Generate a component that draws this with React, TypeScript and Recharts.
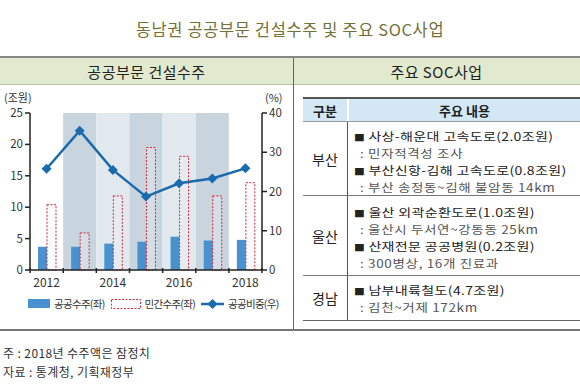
import {
  ComposedChart,
  Bar,
  Line,
  XAxis,
  YAxis,
  ReferenceArea,
} from "recharts";

const years = ["2012", "2013", "2014", "2015", "2016", "2017", "2018"];
const publicOrders = [3.7, 3.7, 4.2, 4.5, 5.3, 4.7, 4.8];
const privateOrders = [10.4, 5.9, 11.8, 19.5, 18.1, 11.8, 13.9];
const publicShare = [25.8, 35.5, 25.5, 18.7, 22.1, 23.3, 25.9];
const leftTicks = [0, 5, 10, 15, 20, 25];
const rightTicks = [0, 10, 20, 30, 40];

const data = years.map((year, i) => ({
  year,
  public: publicOrders[i],
  private: privateOrders[i],
  share: publicShare[i],
}));

type Row = { region: string; items: { title: string; note: string }[] };
const socRows: Row[] = [
  {
    region: "부산",
    items: [
      { title: "사상-해운대 고속도로(2.0조원)", note: ": 민자적격성 조사" },
      { title: "부산신항-김해 고속도로(0.8조원)", note: ": 부산 송정동~김해 불암동 14km" },
    ],
  },
  {
    region: "울산",
    items: [
      { title: "울산 외곽순환도로(1.0조원)", note: ": 울산시 두서연~강동동 25km" },
      { title: "산재전문 공공병원(0.2조원)", note: ": 300병상, 16개 진료과" },
    ],
  },
  {
    region: "경남",
    items: [{ title: "남부내륙철도(4.7조원)", note: ": 김천~거제 172km" }],
  },
];
const rowHeights = [73, 79, 44];

const FONT = '"Noto Sans CJK KR", "Noto Sans", sans-serif';
const BLUE = "#4a92cf";
const RED = "#d0283a";
const LINE = "#1a6aae";

function Diamond({ cx, cy }: { cx?: number; cy?: number }) {
  if (cx == null || cy == null) return null;
  const r = 5;
  return (
    <path
      d={`M${cx},${cy - r} L${cx + r},${cy} L${cx},${cy + r} L${cx - r},${cy} Z`}
      fill={LINE}
    />
  );
}

function YearTick({ x, y, payload, index }: any) {
  const half = 16.5;
  const show = index % 2 === 0;
  return (
    <g>
      <line x1={x - half} x2={x - half} y1={y - 10} y2={y - 5} stroke="#222" strokeWidth={1.5} />
      {index === years.length - 1 && (
        <line x1={x + half} x2={x + half} y1={y - 10} y2={y - 5} stroke="#222" strokeWidth={1.5} />
      )}
      {show && (
        <text x={x} y={y + 9} textAnchor="middle" fontSize={12} fill="#333" fontFamily={FONT}>
          {payload.value}
        </text>
      )}
    </g>
  );
}

function LeftChart() {
  return (
    <ComposedChart
      width={293}
      height={330}
      data={data}
      margin={{ top: 113, right: 0, bottom: 30, left: 0 }}
      barGap={0}
    >
      {years.map((y, i) => (
        <ReferenceArea
          key={y}
          yAxisId="left"
          x1={y}
          x2={y}
          y1={0}
          y2={25}
          fill={i % 2 === 0 ? "#e2e9ee" : "#c8d5df"}
          fillOpacity={1}
          strokeOpacity={0}
        />
      ))}
      <XAxis
        dataKey="year"
        interval={0}
        height={30}
        tickLine={false}
        tick={<YearTick />}
        axisLine={{ stroke: "#222", strokeWidth: 1.5 }}
      />
      <YAxis
        yAxisId="left"
        orientation="left"
        width={30}
        domain={[0, 25]}
        ticks={leftTicks}
        tickSize={5}
        tick={{ fontSize: 11.5, fill: "#333", fontFamily: FONT }}
        axisLine={{ stroke: "#222", strokeWidth: 1.5 }}
        tickLine={{ stroke: "#222", strokeWidth: 1.5 }}
      />
      <YAxis
        yAxisId="right"
        orientation="right"
        width={31}
        domain={[0, 40]}
        ticks={rightTicks}
        tickSize={5}
        tick={{ fontSize: 11.5, fill: "#333", fontFamily: FONT }}
        axisLine={{ stroke: "#222", strokeWidth: 1.5 }}
        tickLine={{ stroke: "#222", strokeWidth: 1.5 }}
      />
      <Bar yAxisId="left" dataKey="public" barSize={9} fill={BLUE} isAnimationActive={false} />
      <Bar
        yAxisId="left"
        dataKey="private"
        barSize={9}
        fill="#eef2f5"
        fillOpacity={0.35}
        stroke={RED}
        strokeWidth={1}
        strokeDasharray="2 1.5"
        isAnimationActive={false}
      />
      <Line
        yAxisId="right"
        dataKey="share"
        stroke={LINE}
        strokeWidth={2.5}
        dot={<Diamond />}
        activeDot={false}
        isAnimationActive={false}
      />
    </ComposedChart>
  );
}

function Legend() {
  const txt: React.CSSProperties = {
    fontSize: 10.5,
    color: "#333",
    marginLeft: 4,
    marginRight: 6,
    letterSpacing: -0.7,
  };
  return (
    <div
      style={{
        position: "absolute",
        left: 28,
        top: 296,
        display: "flex",
        alignItems: "center",
        fontFamily: FONT,
        whiteSpace: "nowrap",
      }}
    >
      <span style={{ width: 22, height: 9, background: BLUE, display: "inline-block" }} />
      <span style={txt}>공공수주(좌)</span>
      <svg width={30} height={10}>
        <rect x={0.5} y={0.5} width={29} height={9} fill="none" stroke={RED} strokeDasharray="2 1.5" />
      </svg>
      <span style={txt}>민간수주(좌)</span>
      <svg width={23} height={12}>
        <line x1={0} x2={23} y1={6} y2={6} stroke={LINE} strokeWidth={2.5} />
        <path d="M11.5,1 L16.5,6 L11.5,11 L6.5,6 Z" fill={LINE} />
      </svg>
      <span style={txt}>공공비중(우)</span>
    </div>
  );
}

function SocTable() {
  return (
    <div style={{ position: "absolute", left: 303, top: 97, width: 277, fontFamily: FONT }}>
      <div
        style={{
          display: "flex",
          height: 22,
          borderTop: "2px solid #555",
          borderBottom: "1px solid #999",
          fontSize: 13,
          fontWeight: 700,
          color: "#222",
        }}
      >
        <div
          style={{
            width: 44,
            background: "#d3e8f4",
            display: "flex",
            alignItems: "center",
            justifyContent: "center",
            borderRight: "2px solid #fff",
          }}
        >
          구분
        </div>
        <div
          style={{
            flex: 1,
            background: "#d3e8f4",
            display: "flex",
            alignItems: "center",
            justifyContent: "center",
          }}
        >
          주요 내용
        </div>
      </div>
      {socRows.map((row, ri) => (
        <div
          key={row.region}
          style={{
            display: "flex",
            height: rowHeights[ri],
            borderBottom: ri === socRows.length - 1 ? "1px solid #666" : "1px solid #777",
          }}
        >
          <div
            style={{
              width: 44,
              borderRight: "1px solid #555",
              display: "flex",
              alignItems: "center",
              justifyContent: "center",
              fontSize: 14,
              color: "#222",
            }}
          >
            {row.region}
          </div>
          <div style={{ paddingLeft: 6, paddingTop: ri === 1 ? 7 : 5 }}>
            {row.items.map((it) => (
              <div key={it.title}>
                <div style={{ height: 17, lineHeight: "17px", whiteSpace: "nowrap" }}>
                  <span
                    style={{
                      display: "inline-block",
                      fontSize: 13,
                      color: "#222",
                      letterSpacing: 0.3,
                      transform: "scale(1.08, 0.9)",
                      transformOrigin: "left center",
                    }}
                  >
                    <span style={{ fontSize: 10, marginRight: 3, position: "relative", top: -1 }}>■</span>
                    {it.title}
                  </span>
                </div>
                <div style={{ height: 17, lineHeight: "17px", whiteSpace: "nowrap", paddingLeft: 6 }}>
                  <span
                    style={{
                      display: "inline-block",
                      fontSize: 12.5,
                      color: "#555",
                      letterSpacing: 0.6,
                      transform: "scale(1.08, 0.9)",
                      transformOrigin: "left center",
                    }}
                  >
                    {it.note}
                  </span>
                </div>
              </div>
            ))}
          </div>
        </div>
      ))}
    </div>
  );
}

export default function App() {
  return (
    <div
      style={{
        position: "absolute",
        left: 0,
        top: 0,
        width: 580,
        height: 390,
        background: "#fff",
        fontFamily: FONT,
        overflow: "hidden",
      }}
    >
      <div
        style={{
          position: "absolute",
          top: 17,
          width: 580,
          textAlign: "center",
          fontSize: 16.5,
          color: "#72713a",
          letterSpacing: 0.6,
        }}
      >
        동남권 공공부문 건설수주 및 주요 SOC사업
      </div>
      <div
        style={{
          position: "absolute",
          top: 56,
          left: 0,
          width: 580,
          height: 26,
          background: "#e1eacf",
          borderTop: "2px solid #888",
          borderBottom: "1px solid #b5bfa3",
          display: "flex",
          fontSize: 15,
          color: "#222",
          letterSpacing: 0.5,
        }}
      >
        <div style={{ width: 293, display: "flex", alignItems: "center", justifyContent: "center" }}>
          공공부문 건설수주
        </div>
        <div style={{ flex: 1, display: "flex", alignItems: "center", justifyContent: "center" }}>
          주요 SOC사업
        </div>
      </div>
      <div style={{ position: "absolute", left: 293, top: 58, width: 1, height: 272, background: "#666" }} />
      <div style={{ position: "absolute", left: 0, top: 329, width: 580, height: 2, background: "#777" }} />

      <div style={{ position: "absolute", left: 0, top: 0 }}>
        <LeftChart />
      </div>
      <div style={{ position: "absolute", left: 4, top: 89, fontSize: 11, color: "#333" }}>(조원)</div>
      <div style={{ position: "absolute", left: 265, top: 89, fontSize: 11, color: "#333" }}>(%)</div>
      <Legend />

      <SocTable />

      <div
        style={{
          position: "absolute",
          left: 3,
          top: 343,
          fontSize: 12,
          color: "#333",
          lineHeight: "19px",
          letterSpacing: 0.4,
        }}
      >
        <div>주 : 2018년 수주액은 잠정치</div>
        <div>자료 : 통계청, 기획재정부</div>
      </div>
    </div>
  );
}
